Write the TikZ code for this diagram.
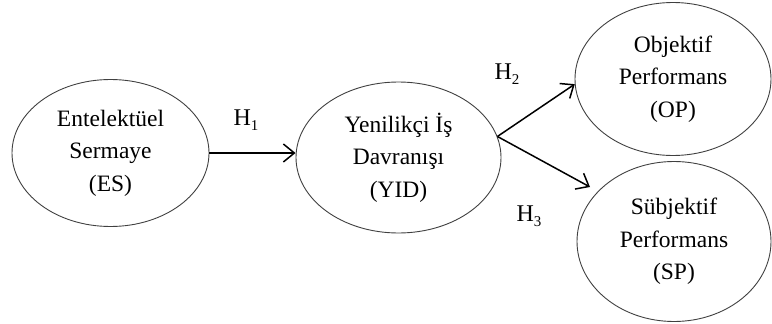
\documentclass[tikz,border=0pt]{standalone}
\usepackage{fontspec}
\setmainfont{Liberation Serif}
\usetikzlibrary{shapes.geometric,arrows.meta}
\newcommand{\hsub}[1]{\raisebox{-0.45ex}{\fontsize{15}{15}\selectfont #1}}
\begin{document}
\begin{tikzpicture}[x=1pt,y=-1pt,
  construct/.style={draw=black!75,line width=0.9pt,ellipse,inner sep=0pt,align=center,
    font=\fontsize{23.5}{32.5}\selectfont},
  link/.style={line width=1.5pt,-{Straight Barb[length=11pt,width=18pt,line width=1.5pt]}},
  hlabel/.style={font=\fontsize{24}{26}\selectfont,inner sep=0pt}]
\useasboundingbox (0,0) rectangle (772,324);
\node[construct,minimum width=197pt,minimum height=147pt] (es) at (110.5,153) {Entelektüel\\Sermaye\\(ES)};
\node[construct,minimum width=205pt,minimum height=151pt] (yid) at (398.5,157.5) {Yenilikçi İş\\Davranışı\\(YID)};
\node[construct,minimum width=196pt,minimum height=153pt] (op) at (673,79) {Objektif\\Performans\\(OP)};
\node[construct,minimum width=194pt,minimum height=160pt] (sp) at (674,241.5) {Sübjektif\\Performans\\(SP)};
\coordinate (yout) at (yid.12);
\coordinate (spin) at (590,187);
\draw[link] (es.east) -- (es.east -| yid.west);
\draw[link] (yout) -- (op.183);
\draw[link] (yout) -- (spin);
\node[hlabel] (h1) at (246,120) {H\hsub{1}};
\node[hlabel] (h2) at (507,74) {H\hsub{2}};
\node[hlabel] (h3) at (529,216) {H\hsub{3}};
\end{tikzpicture}
\end{document}
